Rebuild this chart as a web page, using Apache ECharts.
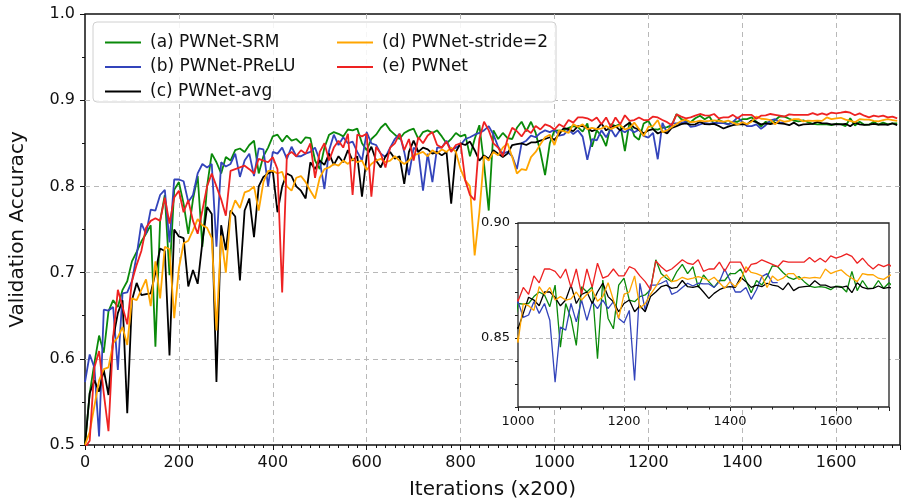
<!DOCTYPE html>
<html>
<head>
<meta charset="utf-8">
<script src="https://cdn.jsdelivr.net/npm/echarts@6/dist/echarts.min.js"></script>
<style>
  html, body { margin: 0; padding: 0; background: #fff; }
  #chart { width: 904px; height: 501px; }
</style>
</head>
<body>
<div id="chart"></div>
<script>
// Series names (legend order)
const seriesNames = ['(a) PWNet-SRM', '(b) PWNet-PReLU', '(c) PWNet-avg', '(d) PWNet-stride=2', '(e) PWNet'];
const seriesColors = ['#0a8a0a', '#3344bb', '#000000', '#ffa500', '#ee2222'];

// Validation accuracy, one value every 10 units of iterations (x200)
const srmAcc = [
  0.500, 0.560, 0.595, 0.627, 0.607, 0.655, 0.668, 0.660, 0.680, 0.690,
  0.713, 0.724, 0.736, 0.745, 0.755, 0.614, 0.760, 0.790, 0.697, 0.796,
  0.805, 0.780, 0.745, 0.785, 0.812, 0.730, 0.800, 0.838, 0.828, 0.815,
  0.834, 0.830, 0.842, 0.844, 0.840, 0.848, 0.853, 0.815, 0.835, 0.845,
  0.858, 0.860, 0.852, 0.859, 0.853, 0.855, 0.850, 0.857, 0.856, 0.830,
  0.820, 0.845, 0.860, 0.863, 0.861, 0.858, 0.866, 0.865, 0.867, 0.850,
  0.842, 0.855, 0.860, 0.868, 0.873, 0.865, 0.860, 0.855, 0.862, 0.865,
  0.867, 0.855, 0.863, 0.865, 0.862, 0.865, 0.858, 0.850, 0.855, 0.862,
  0.858, 0.860, 0.835, 0.855, 0.871, 0.826, 0.772, 0.865, 0.855, 0.862,
  0.856, 0.855, 0.868, 0.875, 0.864, 0.875, 0.862, 0.840, 0.813, 0.850,
  0.865, 0.8647, 0.865, 0.868, 0.870, 0.8687, 0.8636, 0.873, 0.846, 0.865,
  0.8585, 0.8468, 0.8723, 0.870, 0.8723, 0.841, 0.8752, 0.8585, 0.854, 0.873,
  0.876, 0.8665, 0.8658, 0.868, 0.8687, 0.871, 0.884, 0.878, 0.876, 0.8745,
  0.879, 0.882, 0.878, 0.881, 0.872, 0.8774, 0.8745, 0.872, 0.875, 0.875,
  0.878, 0.878, 0.880, 0.875, 0.8697, 0.875, 0.873, 0.8767, 0.8814, 0.881,
  0.8785, 0.8764, 0.8755, 0.8767, 0.8745, 0.8726, 0.872, 0.8723, 0.872, 0.871,
  0.8726, 0.8723, 0.870, 0.879, 0.8706, 0.875, 0.8716, 0.8716, 0.875, 0.8716,
  0.874, 0.872, 0.873, 0.873
];
const preluAcc = [
  0.573, 0.605, 0.590, 0.510, 0.657, 0.656, 0.660, 0.587, 0.676, 0.677,
  0.690, 0.720, 0.757, 0.745, 0.773, 0.772, 0.790, 0.796, 0.735, 0.808,
  0.808, 0.806, 0.782, 0.790, 0.815, 0.826, 0.822, 0.826, 0.730, 0.828,
  0.823, 0.826, 0.838, 0.811, 0.830, 0.838, 0.812, 0.844, 0.843, 0.800,
  0.840, 0.838, 0.845, 0.832, 0.846, 0.835, 0.835, 0.838, 0.840, 0.845,
  0.830, 0.797, 0.842, 0.860, 0.848, 0.857, 0.850, 0.852, 0.840, 0.830,
  0.863, 0.850, 0.848, 0.838, 0.834, 0.845, 0.855, 0.861, 0.840, 0.813,
  0.845, 0.840, 0.795, 0.838, 0.805, 0.845, 0.845, 0.853, 0.842, 0.845,
  0.848, 0.855, 0.857, 0.860, 0.862, 0.865, 0.870, 0.860, 0.846, 0.838,
  0.840, 0.835, 0.820, 0.850, 0.853, 0.859, 0.857, 0.862, 0.865, 0.863,
  0.8658, 0.859, 0.860, 0.8658, 0.8607, 0.865, 0.8577, 0.8308, 0.8548, 0.8534,
  0.865, 0.857, 0.8665, 0.8577, 0.8658, 0.8628, 0.8665, 0.8628, 0.8658, 0.8585,
  0.8566, 0.862, 0.8315, 0.8738, 0.862, 0.873, 0.873, 0.8738, 0.875, 0.869,
  0.870, 0.872, 0.8738, 0.8726, 0.8738, 0.8735, 0.8735, 0.872, 0.8745, 0.880,
  0.875, 0.870, 0.870, 0.872, 0.8668, 0.871, 0.8767, 0.878, 0.8741, 0.8741
];
const avgAcc = [
  0.500, 0.560, 0.575, 0.562, 0.587, 0.558, 0.624, 0.653, 0.668, 0.537,
  0.668, 0.688, 0.674, 0.675, 0.676, 0.700, 0.728, 0.725, 0.604, 0.750,
  0.742, 0.740, 0.684, 0.703, 0.687, 0.735, 0.776, 0.768, 0.573, 0.755,
  0.726, 0.772, 0.765, 0.691, 0.772, 0.786, 0.741, 0.800, 0.811, 0.815,
  0.818, 0.770, 0.800, 0.815, 0.812, 0.800, 0.795, 0.786, 0.828, 0.820,
  0.830, 0.825, 0.838, 0.825, 0.835, 0.828, 0.842, 0.830, 0.835, 0.788,
  0.835, 0.846, 0.830, 0.822, 0.835, 0.840, 0.832, 0.835, 0.803, 0.840,
  0.853, 0.840, 0.845, 0.843, 0.838, 0.840, 0.836, 0.840, 0.780, 0.840,
  0.850, 0.848, 0.852, 0.842, 0.830, 0.836, 0.832, 0.842, 0.838, 0.834,
  0.838, 0.848, 0.849, 0.850, 0.848, 0.851, 0.851, 0.853, 0.855, 0.857,
  0.854, 0.8607, 0.8677, 0.8665, 0.864, 0.870, 0.870, 0.8677, 0.864, 0.8665,
  0.873, 0.865, 0.869, 0.870, 0.865, 0.870, 0.8738, 0.868, 0.8658, 0.8614,
  0.865, 0.8665, 0.8614, 0.864, 0.8614, 0.868, 0.870, 0.8723, 0.873, 0.8716,
  0.872, 0.875, 0.8723, 0.872, 0.8726, 0.870, 0.8672, 0.8694, 0.871, 0.872,
  0.8723, 0.872, 0.8764, 0.8745, 0.872, 0.873, 0.8723, 0.8738, 0.873, 0.8726,
  0.871, 0.874, 0.8706, 0.872, 0.8723, 0.8726, 0.8749, 0.873, 0.873, 0.872,
  0.8723, 0.872, 0.8726, 0.8697, 0.874, 0.872, 0.8714, 0.8716, 0.8726, 0.8716,
  0.872, 0.8715, 0.873, 0.871
];
const strideAcc = [
  0.500, 0.515, 0.545, 0.575, 0.588, 0.590, 0.618, 0.625, 0.637, 0.616,
  0.670, 0.668, 0.680, 0.692, 0.661, 0.713, 0.670, 0.730, 0.727, 0.647,
  0.705, 0.734, 0.737, 0.749, 0.762, 0.755, 0.752, 0.740, 0.633, 0.743,
  0.700, 0.768, 0.784, 0.775, 0.793, 0.795, 0.800, 0.772, 0.805, 0.818,
  0.818, 0.815, 0.817, 0.800, 0.795, 0.810, 0.812, 0.805, 0.795, 0.786,
  0.810, 0.820, 0.822, 0.826, 0.824, 0.830, 0.826, 0.832, 0.828, 0.830,
  0.819, 0.826, 0.830, 0.832, 0.828, 0.830, 0.835, 0.830, 0.826, 0.830,
  0.836, 0.838, 0.840, 0.835, 0.842, 0.838, 0.843, 0.840, 0.845, 0.840,
  0.820, 0.807, 0.800, 0.720, 0.770, 0.835, 0.830, 0.840, 0.836, 0.845,
  0.850, 0.834, 0.815, 0.820, 0.819, 0.834, 0.840, 0.849, 0.857, 0.860,
  0.848, 0.865, 0.864, 0.862, 0.8723, 0.869, 0.872, 0.8665, 0.868, 0.8665,
  0.867, 0.870, 0.8665, 0.869, 0.871, 0.866, 0.868, 0.874, 0.8665, 0.8585,
  0.869, 0.870, 0.877, 0.863, 0.865, 0.869, 0.8723, 0.876, 0.8775, 0.8745,
  0.875, 0.8764, 0.8755, 0.876, 0.8767, 0.876, 0.875, 0.8764, 0.874, 0.8716,
  0.8745, 0.8723, 0.875, 0.881, 0.8785, 0.878, 0.877, 0.872, 0.877, 0.875,
  0.876, 0.878, 0.878, 0.8755, 0.8764, 0.876, 0.8764, 0.876, 0.880, 0.878,
  0.879, 0.8796, 0.8775, 0.876, 0.8745, 0.878, 0.8775, 0.8775, 0.876, 0.8755,
  0.877, 0.878, 0.877, 0.876
];
const pwnetAcc = [
  0.497, 0.505, 0.590, 0.609, 0.560, 0.516, 0.625, 0.680, 0.660, 0.640,
  0.690, 0.709, 0.725, 0.752, 0.760, 0.763, 0.760, 0.787, 0.757, 0.787,
  0.795, 0.770, 0.784, 0.760, 0.745, 0.772, 0.800, 0.815, 0.800, 0.785,
  0.766, 0.818, 0.820, 0.822, 0.824, 0.820, 0.815, 0.832, 0.830, 0.828,
  0.834, 0.820, 0.677, 0.836, 0.840, 0.835, 0.842, 0.838, 0.850, 0.810,
  0.840, 0.850, 0.830, 0.845, 0.853, 0.845, 0.861, 0.790, 0.860, 0.858,
  0.861, 0.788, 0.846, 0.838, 0.822, 0.845, 0.850, 0.861, 0.842, 0.855,
  0.830, 0.857, 0.850, 0.859, 0.863, 0.848, 0.845, 0.852, 0.840, 0.848,
  0.850, 0.807, 0.790, 0.784, 0.855, 0.875, 0.865, 0.850, 0.845, 0.835,
  0.855, 0.868, 0.864, 0.858, 0.866, 0.862, 0.870, 0.866, 0.872, 0.870,
  0.866, 0.872, 0.869, 0.877, 0.874, 0.880, 0.880, 0.879, 0.876, 0.880,
  0.872, 0.880, 0.869, 0.880, 0.872, 0.8825, 0.876, 0.877, 0.880, 0.877,
  0.877, 0.881, 0.880, 0.877, 0.8745, 0.871, 0.8835, 0.881, 0.879, 0.880,
  0.882, 0.884, 0.8825, 0.882, 0.884, 0.879, 0.880, 0.880, 0.883, 0.879,
  0.883, 0.883, 0.883, 0.8785, 0.882, 0.8825, 0.884, 0.883, 0.882, 0.881,
  0.8835, 0.883, 0.883, 0.883, 0.883, 0.885, 0.883, 0.8847, 0.883, 0.8857,
  0.8847, 0.8855, 0.8866, 0.8855, 0.8825, 0.8847, 0.882, 0.880, 0.882, 0.881,
  0.882, 0.880, 0.881, 0.879
];
const allAcc = [srmAcc, preluAcc, avgAcc, strideAcc, pwnetAcc];
const iterStep = 10;

const font = 'DejaVu Sans';
const gridGray = '#b8b8b8';
const clear = 'rgba(0,0,0,0)';

function toPairs(arr) {
  return arr.map((v, i) => [i * iterStep, v]);
}

const chart = echarts.init(document.getElementById('chart'));

const series = [];
seriesNames.forEach((name, i) => {
  series.push({
    type: 'line', name: name, xAxisIndex: 0, yAxisIndex: 0,
    data: toPairs(allAcc[i]), symbol: 'none', showSymbol: false,
    lineStyle: { color: seriesColors[i], width: 1.8 },
    itemStyle: { color: seriesColors[i] },
    z: 2
  });
});
// same curves again, zoomed into the inset
seriesNames.forEach((name, i) => {
  series.push({
    type: 'line', name: name, xAxisIndex: 1, yAxisIndex: 1,
    data: toPairs(allAcc[i]), symbol: 'none', showSymbol: false,
    lineStyle: { color: seriesColors[i], width: 1.3 },
    itemStyle: { color: seriesColors[i] },
    clip: true,
    z: 7
  });
});

const legendText = { fontSize: 17, fontFamily: font, color: '#111', lineHeight: 17, padding: [0, 0, 0, 4] };

const option = {
  animation: false,
  backgroundColor: '#fff',
  textStyle: { fontFamily: font },
  grid: [
    {
      left: 85, top: 14, width: 815, height: 431, outerBoundsMode: 'none',
      show: true, borderColor: '#111', borderWidth: 1.5, backgroundColor: '#fff'
    },
    {
      left: 518, top: 223, width: 371, height: 184, outerBoundsMode: 'none',
      show: true, borderColor: '#222', borderWidth: 1.3, backgroundColor: '#fff', z: 5
    }
  ],
  xAxis: [
    {
      type: 'value', gridIndex: 0, min: 0, max: 1736, interval: 200,
      name: 'Iterations (x200)', nameLocation: 'middle', nameGap: 35,
      nameTextStyle: { fontSize: 20, fontFamily: font, color: '#111' },
      axisLine: { show: false },
      axisTick: { show: true, inside: false, length: 5, lineStyle: { color: '#111', width: 1 } },
      minorTick: { show: true, splitNumber: 10, length: 3, lineStyle: { color: '#111', width: 1 } },
      axisLabel: { fontSize: 16, fontFamily: font, color: '#111', margin: 10, showMaxLabel: false, formatter: v => String(v) },
      splitLine: { show: true, lineStyle: { type: [5, 4], width: 1, color: [clear, gridGray, gridGray, gridGray, gridGray, gridGray, gridGray, gridGray, gridGray, clear] } }
    },
    {
      type: 'value', gridIndex: 1, min: 1000, max: 1700, interval: 200, z: 6,
      axisLine: { show: false },
      axisTick: { show: true, inside: false, length: 4, lineStyle: { color: '#222', width: 1 } },
      minorTick: { show: true, splitNumber: 5, length: 2.5, lineStyle: { color: '#222', width: 1 } },
      axisLabel: { fontSize: 13, fontFamily: font, color: '#111', margin: 8, showMaxLabel: false, formatter: v => String(v) },
      splitLine: { show: true, lineStyle: { type: [4, 3], width: 1, color: [clear, gridGray, gridGray, gridGray, clear] } }
    }
  ],
  yAxis: [
    {
      type: 'value', gridIndex: 0, min: 0.5, max: 1.0, interval: 0.1,
      name: 'Validation Accuracy', nameLocation: 'middle', nameGap: 57, nameRotate: 90,
      nameTextStyle: { fontSize: 20, fontFamily: font, color: '#111' },
      axisLine: { show: false },
      axisTick: { show: true, inside: false, length: 5, lineStyle: { color: '#111', width: 1 } },
      minorTick: { show: true, splitNumber: 2, length: 3, lineStyle: { color: '#111', width: 1 } },
      axisLabel: { fontSize: 16, fontFamily: font, color: '#111', margin: 10, formatter: v => v.toFixed(1) },
      splitLine: { show: true, lineStyle: { type: [5, 4], width: 1, color: [clear, gridGray, gridGray, gridGray, gridGray, clear] } }
    },
    {
      type: 'value', gridIndex: 1, min: 0.82, max: 0.90, interval: 0.01, z: 6,
      axisLine: { show: false },
      axisTick: { show: true, inside: false, length: 3, lineStyle: { color: '#222', width: 1 } },
      axisLabel: {
        fontSize: 13, fontFamily: font, color: '#111', margin: 8,
        formatter: v => (Math.abs(v - 0.85) < 1e-6 || Math.abs(v - 0.90) < 1e-6) ? v.toFixed(2) : ''
      },
      splitLine: { show: true, lineStyle: { type: [4, 3], width: 1, color: [clear, clear, clear, gridGray, clear, clear, clear, clear, clear] } }
    }
  ],
  legend: [
    {
      left: 100, top: 29, orient: 'vertical', icon: 'rect', itemWidth: 36, itemHeight: 2, itemGap: 7.5,
      data: seriesNames.slice(0, 3), textStyle: legendText, selectedMode: false, z: 9
    },
    {
      left: 332, top: 29, orient: 'vertical', icon: 'rect', itemWidth: 36, itemHeight: 2, itemGap: 7.5,
      data: seriesNames.slice(3), textStyle: legendText, selectedMode: false, z: 9
    }
  ],
  graphic: [
    {
      type: 'rect', z: 8, silent: true,
      shape: { x: 93, y: 22, width: 463, height: 80, r: 4 },
      style: { fill: 'rgba(255,255,255,0.85)', stroke: '#d0d0d0', lineWidth: 1 }
    }
  ],
  series: series
};

chart.setOption(option);
</script>
</body>
</html>
